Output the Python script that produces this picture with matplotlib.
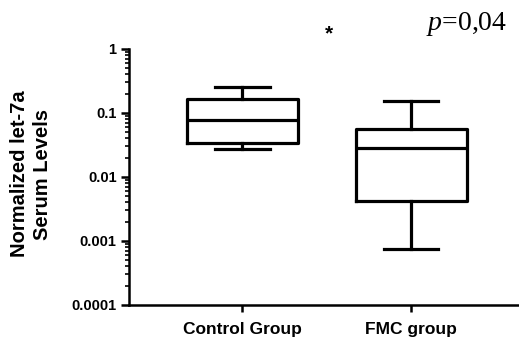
import matplotlib
matplotlib.use("Agg")
import matplotlib.pyplot as plt
from matplotlib.ticker import LogLocator, FixedLocator, FixedFormatter, NullFormatter

# ---------------- Dados ----------------
grupos = ["Control Group", "FMC group"]
whisker_min = [0.0274, 0.00075]
q1 = [0.034, 0.0042]
mediana = [0.078, 0.0284]
q3 = [0.166, 0.056]
whisker_max = [0.255, 0.154]

y_ticks = [0.0001, 0.001, 0.01, 0.1, 1]
y_tick_labels = ["0.0001", "0.001", "0.01", "0.1", "1"]

p_texto = "$p$=0,04"

# ---------------- Estilo ----------------
plt.rcParams["font.family"] = ["Liberation Sans", "DejaVu Sans"]
plt.rcParams["mathtext.fontset"] = "custom"
plt.rcParams["mathtext.it"] = "Liberation Serif:italic"
plt.rcParams["mathtext.rm"] = "Liberation Serif"

fig = plt.figure(figsize=(5.19, 3.44), dpi=100)
ax = fig.add_axes([0.2486, 0.1134, 0.7514, 0.7442])

stats = []
for i in range(len(grupos)):
    stats.append({
        "whislo": whisker_min[i], "q1": q1[i], "med": mediana[i],
        "q3": q3[i], "whishi": whisker_max[i], "fliers": [],
    })

lw = 2.3
ax.bxp(stats, positions=[1, 2], widths=0.657, capwidths=0.325, showfliers=False,
       boxprops=dict(color="black", linewidth=lw),
       medianprops=dict(color="black", linewidth=lw),
       whiskerprops=dict(color="black", linewidth=lw),
       capprops=dict(color="black", linewidth=lw))

ax.set_yscale("log")
ax.set_ylim(0.0001, 1)
ax.set_xlim(0.331, 2.639)

ax.yaxis.set_major_locator(FixedLocator(y_ticks))
ax.yaxis.set_major_formatter(FixedFormatter(y_tick_labels))
ax.yaxis.set_minor_locator(LogLocator(base=10, subs=range(2, 10), numticks=20))
ax.yaxis.set_minor_formatter(NullFormatter())

ax.set_xticks([1, 2])
ax.set_xticklabels(grupos, fontsize=12.5, fontweight="bold")
for lab in ax.get_yticklabels():
    lab.set_fontsize(10.5)
    lab.set_fontweight("bold")

ax.spines["top"].set_visible(False)
ax.spines["right"].set_visible(False)
ax.spines["left"].set_linewidth(1.8)
ax.spines["bottom"].set_linewidth(1.8)

ax.tick_params(axis="y", which="major", length=6, width=1.8, pad=3)
ax.tick_params(axis="y", which="minor", length=3, width=1.2)
ax.tick_params(axis="x", which="major", length=5, width=1.8, pad=7)

# rótulo do eixo y (duas linhas)
fig.text(31 / 519, 1 - 174 / 344, "Normalized let-7a\nSerum Levels", fontsize=14.5,
         fontweight="bold", rotation=90, ha="center", va="center",
         multialignment="center", linespacing=1.3)

fig.text(329 / 519, 1 - 34 / 344, "*", fontsize=15, fontweight="bold",
         ha="center", va="center")
fig.text(426 / 519, 1 - 30 / 344, p_texto, fontsize=20, ha="left", va="baseline",
         family="Liberation Serif")

fig.savefig("out.png", dpi=100)
